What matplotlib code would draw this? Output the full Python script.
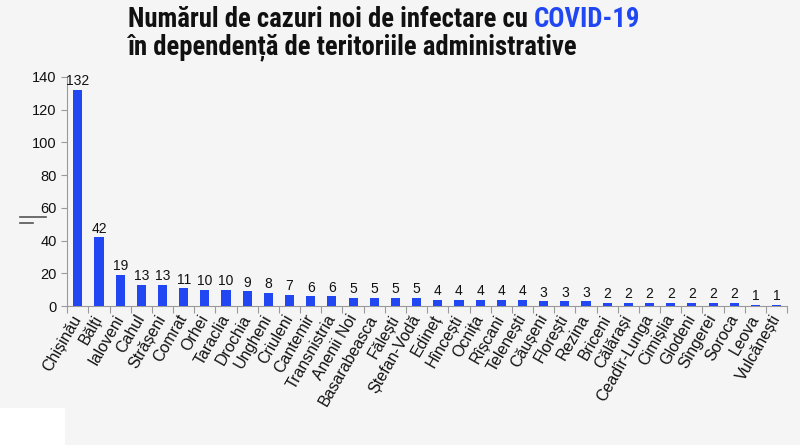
import matplotlib
matplotlib.use('Agg')
import matplotlib.pyplot as plt
from matplotlib.patches import Rectangle
from matplotlib.lines import Line2D
import numpy as np

BLUE = '#2047F2'
BG = '#F5F5F5'
TITLE_FONT = ['Roboto Condensed', 'Liberation Sans', 'DejaVu Sans']

raioane = ['Chișinău', 'Bălți', 'Ialoveni', 'Cahul', 'Strășeni', 'Comrat', 'Orhei',
           'Taraclia', 'Drochia', 'Ungheni', 'Criuleni', 'Cantemir', 'Transnistria',
           'Anenii Noi', 'Basarabeasca', 'Fălești', 'Ștefan-Vodă', 'Edineț', 'Hîncești',
           'Ocnița', 'Rîșcani', 'Telenești', 'Căușeni', 'Florești', 'Rezina', 'Briceni',
           'Călărași', 'Ceadîr-Lunga', 'Cimișlia', 'Glodeni', 'Sîngerei', 'Soroca',
           'Leova', 'Vulcănești']
cazuri = [132, 42, 19, 13, 13, 11, 10, 10, 9, 8, 7, 6, 6, 5, 5, 5, 5, 4, 4, 4, 4, 4,
          3, 3, 3, 2, 2, 2, 2, 2, 2, 2, 1, 1]
y_ticks = [0, 20, 40, 60, 80, 100, 120, 140]

plt.rcParams['font.family'] = ['Liberation Sans', 'DejaVu Sans']

fig = plt.figure(figsize=(8, 4.45), dpi=100, facecolor=BG)
ax = fig.add_axes([0.084, 0.312, 0.9, 0.515])
ax.set_facecolor(BG)

x = np.arange(len(raioane))
ax.bar(x, cazuri, width=0.43, color=BLUE, zorder=3)
for xi, v in zip(x, cazuri):
    ax.text(xi, v + 1, str(v), ha='center', va='bottom', fontsize=10, color='#111111')

ax.set_xlim(-0.5, len(raioane) - 0.5)
ax.set_ylim(0, 140)
ax.set_yticks(y_ticks)
ax.tick_params(axis='y', labelsize=10.5, color='#9a9a9a', length=4, labelcolor='#111111')

# ticks between categories, labels under the bars
ax.set_xticks(np.arange(len(raioane) + 1) - 0.5)
ax.set_xticklabels([])
ax.set_xticks(x, minor=True)
ax.set_xticklabels(raioane, minor=True, rotation=60, ha='right', va='center',
                   rotation_mode='anchor', fontsize=11.5, color='#111111')
ax.tick_params(axis='x', which='major', length=5, color='#9a9a9a')
ax.tick_params(axis='x', which='minor', length=0, pad=7)

for s in ['top', 'right']:
    ax.spines[s].set_visible(False)
for s in ['left', 'bottom']:
    ax.spines[s].set_color('#9a9a9a')

# title, two colours on the first line
t1 = fig.text(0.16, 0.925, 'Numărul de cazuri noi de infectare cu ', fontsize=19.3,
              fontweight='bold', family=TITLE_FONT, color='#111111', va='bottom')
ax.annotate('COVID-19', xy=(1, 0), xycoords=t1, va='bottom', ha='left',
            fontsize=19.3, fontweight='bold', color=BLUE, family=TITLE_FONT)
fig.text(0.16, 0.862, 'în dependență de teritoriile administrative', fontsize=19.3,
         fontweight='bold', family=TITLE_FONT, color='#111111', va='bottom')

# small leftover marks near the y axis
fig.add_artist(Line2D([0.025, 0.057], [0.512, 0.512], color='#555555', lw=1.2))
fig.add_artist(Line2D([0.025, 0.041], [0.499, 0.499], color='#555555', lw=1.2))

fig.patches.append(Rectangle((0, 0), 65 / 800, 37 / 445, transform=fig.transFigure,
                             facecolor='white', edgecolor='none', zorder=0))

fig.savefig('out.png', dpi=100, facecolor=BG)
